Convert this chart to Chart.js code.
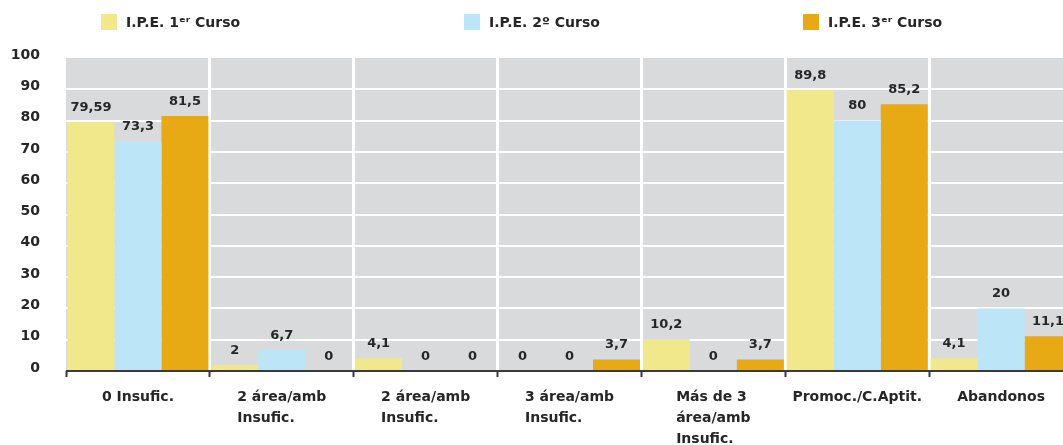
<!DOCTYPE html>
<html><head><meta charset="utf-8">
<script src="https://cdn.jsdelivr.net/npm/chart.js@4.4.0/dist/chart.umd.min.js"></script>
<style>
html,body{margin:0;padding:0;background:#fff;overflow:hidden;width:1063px;height:445px}
#wrap{width:1075px;height:445px;position:relative}
</style>
</head><body><div id="wrap"><canvas id="c" width="1075" height="445"></canvas></div>
<script>
// ---- data ----
const categories = [
  ['0 Insufic.'],
  ['2 área/amb', 'Insufic.'],
  ['2 área/amb', 'Insufic.'],
  ['3 área/amb', 'Insufic.'],
  ['Más de 3', 'área/amb', 'Insufic.'],
  ['Promoc./C.Aptit.'],
  ['Abandonos']
];
const seriesNames = ['I.P.E. 1ᵉʳ Curso', 'I.P.E. 2º Curso', 'I.P.E. 3ᵉʳ Curso'];
const curso1 = [79.59, 2, 4.1, 0, 10.2, 89.8, 4.1];
const curso2 = [73.3, 6.7, 0, 0, 0, 80, 20];
const curso3 = [81.5, 0, 0, 3.7, 3.7, 85.2, 11.1];
const yTicks = [0, 10, 20, 30, 40, 50, 60, 70, 80, 90, 100];

// ---- styles ----
const seriesColors = ['#f1e78b', '#bde5f8', '#e8aa14'];
const textColor = '#262626';
const fontFamily = "'DejaVu Sans', sans-serif";

const bgPlugin = {
  id: 'bgPlugin',
  beforeDraw(chart) {
    const {ctx, chartArea: a} = chart;
    ctx.save();
    ctx.fillStyle = '#d9dadc';
    ctx.fillRect(a.left, a.top, a.right - a.left, a.bottom - a.top);
    ctx.restore();
  }
};

const overlayPlugin = {
  id: 'overlayPlugin',
  afterDatasetsDraw(chart) {
    const {ctx, chartArea: a, scales} = chart;
    const y0 = scales.y.getPixelForValue(0);
    ctx.save();
    ctx.strokeStyle = '#3a3a3a';
    ctx.lineWidth = 2;
    ctx.beginPath();
    ctx.moveTo(a.left, y0);
    ctx.lineTo(a.right, y0);
    ctx.stroke();
    // data labels
    ctx.fillStyle = textColor;
    ctx.font = 'bold 13px ' + fontFamily;
    ctx.textAlign = 'center';
    ctx.textBaseline = 'bottom';
    chart.data.datasets.forEach((ds, di) => {
      const meta = chart.getDatasetMeta(di);
      meta.data.forEach((el, i) => {
        const txt = String(ds.data[i]).replace('.', ',');
        ctx.fillText(txt, el.x, el.y - 8);
      });
    });
    ctx.restore();
  },
  afterDraw(chart) {
    // category labels: block centred under the category, lines left-aligned
    const {ctx, scales} = chart;
    const xs = scales.x;
    const y0 = scales.y.getPixelForValue(0);
    ctx.save();
    ctx.fillStyle = textColor;
    ctx.font = 'bold 14px ' + fontFamily;
    ctx.textAlign = 'left';
    ctx.textBaseline = 'middle';
    chart.data.labels.forEach((lines, i) => {
      const cx = xs.getPixelForTick(i);
      const w = Math.max(...lines.map(l => ctx.measureText(l).width));
      lines.forEach((l, j) => {
        ctx.fillText(l, cx - w / 2, y0 + 26 + j * 21);
      });
    });
    ctx.restore();
  }
};

const legendPlugin = {
  id: 'customLegend',
  afterDraw(chart, args, opts) {
    const {ctx} = chart;
    ctx.save();
    ctx.font = 'bold 14px ' + fontFamily;
    ctx.textBaseline = 'middle';
    ctx.textAlign = 'left';
    chart.data.datasets.forEach((ds, i) => {
      const x = opts.xs[i];
      ctx.fillStyle = ds.backgroundColor;
      ctx.fillRect(x, opts.y, opts.box, opts.box);
      ctx.fillStyle = textColor;
      ctx.fillText(ds.label, x + opts.box + opts.gap, opts.y + opts.box / 2 + 1);
    });
    ctx.restore();
  }
};

new Chart(document.getElementById('c'), {
  type: 'bar',
  data: {
    labels: categories,
    datasets: [
      {label: seriesNames[0], data: curso1, backgroundColor: seriesColors[0]},
      {label: seriesNames[1], data: curso2, backgroundColor: seriesColors[1]},
      {label: seriesNames[2], data: curso3, backgroundColor: seriesColors[2]}
    ]
  },
  options: {
    responsive: false,
    animation: false,
    layout: {padding: {top: 58, right: 2, left: 0, bottom: 0}},
    datasets: {bar: {categoryPercentage: 0.98, barPercentage: 1, borderWidth: 0}},
    plugins: {
      legend: {display: false},
      tooltip: {enabled: false},
      customLegend: {xs: [101, 464, 803], y: 14, box: 16, gap: 9}
    },
    scales: {
      x: {
        grid: {
          offset: true,
          color: (c) => (c.index === 0 ? 'rgba(0,0,0,0)' : '#ffffff'),
          lineWidth: 3,
          drawTicks: true,
          tickLength: 6,
          tickWidth: 2,
          tickColor: '#3a3a3a'
        },
        border: {display: false},
        ticks: {display: false, autoSkip: false},
        afterFit(scale) { scale.height = 74; }
      },
      y: {
        min: 0, max: 100,
        afterBuildTicks(scale) { scale.ticks = yTicks.map(v => ({value: v})); },
        grid: {
          color: (c) => (c.tick && c.tick.value === 100 ? 'rgba(0,0,0,0)' : '#ffffff'),
          lineWidth: 2,
          drawTicks: false
        },
        border: {display: false},
        ticks: {
          color: textColor,
          font: {family: fontFamily, size: 14, weight: 'bold'},
          padding: 26,
          labelOffset: -3
        },
        afterFit(scale) { scale.width = 66; }
      }
    }
  },
  plugins: [bgPlugin, overlayPlugin, legendPlugin]
});
</script>
</body></html>
